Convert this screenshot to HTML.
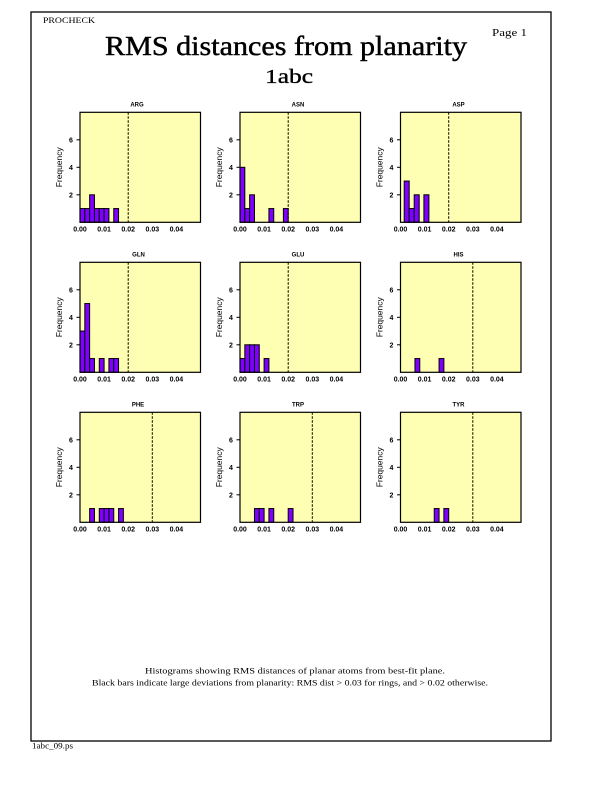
<!DOCTYPE html>
<html>
<head>
<meta charset="utf-8">
<style>
html,body{margin:0;padding:0;background:#fff;}
svg{display:block;}
.tl{font-family:"Liberation Sans",sans-serif;font-size:7px;font-weight:bold;fill:#000;}
.pt{font-family:"Liberation Sans",sans-serif;font-size:6px;font-weight:bold;fill:#000;}
.fq{font-family:"Liberation Sans",sans-serif;font-size:8.5px;fill:#000;}
.sr{font-family:"Liberation Serif",serif;fill:#000;}
.bar{fill:#7f00ff;stroke:#000;stroke-width:1;}
.bg{fill:#ffffb3;stroke:none;}
.fr{fill:none;stroke:#000;stroke-width:1.2;}
.ds{stroke:#000;stroke-width:1;stroke-dasharray:2.5,1.5;}
.tk{stroke:#000;stroke-width:1;}
</style>
</head>
<body>
<svg width="612" height="792" viewBox="0 0 612 792" xmlns="http://www.w3.org/2000/svg">
<defs>
<g id="axes">
  <line class="tk" x1="-3.5" y1="-27.5" x2="0" y2="-27.5"/>
  <line class="tk" x1="-3.5" y1="-55" x2="0" y2="-55"/>
  <line class="tk" x1="-3.5" y1="-82.5" x2="0" y2="-82.5"/>
  <text class="tl" x="-9" y="-25" text-anchor="middle">2</text>
  <text class="tl" x="-9" y="-52.5" text-anchor="middle">4</text>
  <text class="tl" x="-9" y="-80" text-anchor="middle">6</text>
  <text class="tl" x="0" y="9" text-anchor="middle">0.00</text>
  <text class="tl" x="24.1" y="9" text-anchor="middle">0.01</text>
  <text class="tl" x="48.2" y="9" text-anchor="middle">0.02</text>
  <text class="tl" x="72.3" y="9" text-anchor="middle">0.03</text>
  <text class="tl" x="96.4" y="9" text-anchor="middle">0.04</text>
  <text class="fq" transform="translate(-18,-55) rotate(-90)" text-anchor="middle" textLength="40" lengthAdjust="spacingAndGlyphs">Frequency</text>
</g>
</defs>

<rect x="31" y="12" width="520" height="729" fill="none" stroke="#000" stroke-width="1.3"/>

<text class="sr" x="43" y="23" font-size="8.5" textLength="52" lengthAdjust="spacingAndGlyphs">PROCHECK</text>
<text class="sr" x="492" y="36" font-size="10.5" textLength="35" lengthAdjust="spacingAndGlyphs">Page  1</text>
<text class="sr" x="105" y="55" font-size="27" stroke="#000" stroke-width="0.45" textLength="362" lengthAdjust="spacingAndGlyphs">RMS distances from planarity</text>
<text class="sr" x="265" y="83" font-size="20" stroke="#000" stroke-width="0.35" textLength="48" lengthAdjust="spacingAndGlyphs">1abc</text>

<!-- ARG -->
<g transform="translate(80,222.3)">
  <rect class="bg" x="0" y="-110" width="120.5" height="110"/>
  <rect class="bar" x="0" y="-13.75" width="4.82" height="13.75"/>
  <rect class="bar" x="4.82" y="-13.75" width="4.82" height="13.75"/>
  <rect class="bar" x="9.64" y="-27.5" width="4.82" height="27.5"/>
  <rect class="bar" x="14.46" y="-13.75" width="4.82" height="13.75"/>
  <rect class="bar" x="19.28" y="-13.75" width="4.82" height="13.75"/>
  <rect class="bar" x="24.1" y="-13.75" width="4.82" height="13.75"/>
  <rect class="bar" x="33.74" y="-13.75" width="4.82" height="13.75"/>
  <line class="ds" x1="48.2" y1="-110" x2="48.2" y2="0"/>
  <rect class="fr" x="0" y="-110" width="120.5" height="110"/>
  <use href="#axes"/>
  <text class="pt" x="57" y="-115.6" text-anchor="middle">ARG</text>
</g>

<!-- ASN -->
<g transform="translate(240,222.3)">
  <rect class="bg" x="0" y="-110" width="120.5" height="110"/>
  <rect class="bar" x="0" y="-55" width="4.82" height="55"/>
  <rect class="bar" x="4.82" y="-13.75" width="4.82" height="13.75"/>
  <rect class="bar" x="9.64" y="-27.5" width="4.82" height="27.5"/>
  <rect class="bar" x="28.92" y="-13.75" width="4.82" height="13.75"/>
  <rect class="bar" x="43.38" y="-13.75" width="4.82" height="13.75"/>
  <line class="ds" x1="48.2" y1="-110" x2="48.2" y2="0"/>
  <rect class="fr" x="0" y="-110" width="120.5" height="110"/>
  <use href="#axes"/>
  <text class="pt" x="58" y="-115.6" text-anchor="middle">ASN</text>
</g>

<!-- ASP -->
<g transform="translate(400.5,222.3)">
  <rect class="bg" x="0" y="-110" width="120.5" height="110"/>
  <rect class="bar" x="3.7" y="-41.25" width="5" height="41.25"/>
  <rect class="bar" x="8.7" y="-13.75" width="5" height="13.75"/>
  <rect class="bar" x="13.7" y="-27.5" width="5" height="27.5"/>
  <rect class="bar" x="23.4" y="-27.5" width="5" height="27.5"/>
  <line class="ds" x1="48.2" y1="-110" x2="48.2" y2="0"/>
  <rect class="fr" x="0" y="-110" width="120.5" height="110"/>
  <use href="#axes"/>
  <text class="pt" x="58" y="-115.6" text-anchor="middle">ASP</text>
</g>

<!-- GLN -->
<g transform="translate(80,372.3)">
  <rect class="bg" x="0" y="-110" width="120.5" height="110"/>
  <rect class="bar" x="0" y="-41.25" width="4.82" height="41.25"/>
  <rect class="bar" x="4.82" y="-68.75" width="4.82" height="68.75"/>
  <rect class="bar" x="9.64" y="-13.75" width="4.82" height="13.75"/>
  <rect class="bar" x="19.28" y="-13.75" width="4.82" height="13.75"/>
  <rect class="bar" x="28.92" y="-13.75" width="4.82" height="13.75"/>
  <rect class="bar" x="33.74" y="-13.75" width="4.82" height="13.75"/>
  <line class="ds" x1="48.2" y1="-110" x2="48.2" y2="0"/>
  <rect class="fr" x="0" y="-110" width="120.5" height="110"/>
  <use href="#axes"/>
  <text class="pt" x="58.5" y="-115.6" text-anchor="middle">GLN</text>
</g>

<!-- GLU -->
<g transform="translate(240,372.3)">
  <rect class="bg" x="0" y="-110" width="120.5" height="110"/>
  <rect class="bar" x="0" y="-13.75" width="4.82" height="13.75"/>
  <rect class="bar" x="4.82" y="-27.5" width="4.82" height="27.5"/>
  <rect class="bar" x="9.64" y="-27.5" width="4.82" height="27.5"/>
  <rect class="bar" x="14.46" y="-27.5" width="4.82" height="27.5"/>
  <rect class="bar" x="24.1" y="-13.75" width="4.82" height="13.75"/>
  <line class="ds" x1="48.2" y1="-110" x2="48.2" y2="0"/>
  <rect class="fr" x="0" y="-110" width="120.5" height="110"/>
  <use href="#axes"/>
  <text class="pt" x="58" y="-115.6" text-anchor="middle">GLU</text>
</g>

<!-- HIS -->
<g transform="translate(400.5,372.3)">
  <rect class="bg" x="0" y="-110" width="120.5" height="110"/>
  <rect class="bar" x="14.46" y="-13.75" width="4.82" height="13.75"/>
  <rect class="bar" x="38.56" y="-13.75" width="4.82" height="13.75"/>
  <line class="ds" x1="72.3" y1="-110" x2="72.3" y2="0"/>
  <rect class="fr" x="0" y="-110" width="120.5" height="110"/>
  <use href="#axes"/>
  <text class="pt" x="58" y="-115.6" text-anchor="middle">HIS</text>
</g>

<!-- PHE -->
<g transform="translate(80,522.3)">
  <rect class="bg" x="0" y="-110" width="120.5" height="110"/>
  <rect class="bar" x="9.64" y="-13.75" width="4.82" height="13.75"/>
  <rect class="bar" x="19.28" y="-13.75" width="4.82" height="13.75"/>
  <rect class="bar" x="24.1" y="-13.75" width="4.82" height="13.75"/>
  <rect class="bar" x="28.92" y="-13.75" width="4.82" height="13.75"/>
  <rect class="bar" x="38.56" y="-13.75" width="4.82" height="13.75"/>
  <line class="ds" x1="72.3" y1="-110" x2="72.3" y2="0"/>
  <rect class="fr" x="0" y="-110" width="120.5" height="110"/>
  <use href="#axes"/>
  <text class="pt" x="58" y="-115.6" text-anchor="middle">PHE</text>
</g>

<!-- TRP -->
<g transform="translate(240,522.3)">
  <rect class="bg" x="0" y="-110" width="120.5" height="110"/>
  <rect class="bar" x="14.46" y="-13.75" width="4.82" height="13.75"/>
  <rect class="bar" x="19.28" y="-13.75" width="4.82" height="13.75"/>
  <rect class="bar" x="28.92" y="-13.75" width="4.82" height="13.75"/>
  <rect class="bar" x="48.2" y="-13.75" width="4.82" height="13.75"/>
  <line class="ds" x1="72.3" y1="-110" x2="72.3" y2="0"/>
  <rect class="fr" x="0" y="-110" width="120.5" height="110"/>
  <use href="#axes"/>
  <text class="pt" x="58" y="-115.6" text-anchor="middle">TRP</text>
</g>

<!-- TYR -->
<g transform="translate(400.5,522.3)">
  <rect class="bg" x="0" y="-110" width="120.5" height="110"/>
  <rect class="bar" x="33.74" y="-13.75" width="4.82" height="13.75"/>
  <rect class="bar" x="43.38" y="-13.75" width="4.82" height="13.75"/>
  <line class="ds" x1="72.3" y1="-110" x2="72.3" y2="0"/>
  <rect class="fr" x="0" y="-110" width="120.5" height="110"/>
  <use href="#axes"/>
  <text class="pt" x="58" y="-115.6" text-anchor="middle">TYR</text>
</g>

<text class="sr" x="145" y="673.5" font-size="8" textLength="300" lengthAdjust="spacingAndGlyphs">Histograms showing RMS distances of planar atoms from best-fit plane.</text>
<text class="sr" x="92" y="685.5" font-size="8" textLength="396" lengthAdjust="spacingAndGlyphs">Black bars indicate large deviations from planarity: RMS dist &gt; 0.03 for rings, and &gt; 0.02 otherwise.</text>

<text class="sr" x="32" y="748.5" font-size="8" textLength="41" lengthAdjust="spacingAndGlyphs">1abc_09.ps</text>
</svg>
</body>
</html>
